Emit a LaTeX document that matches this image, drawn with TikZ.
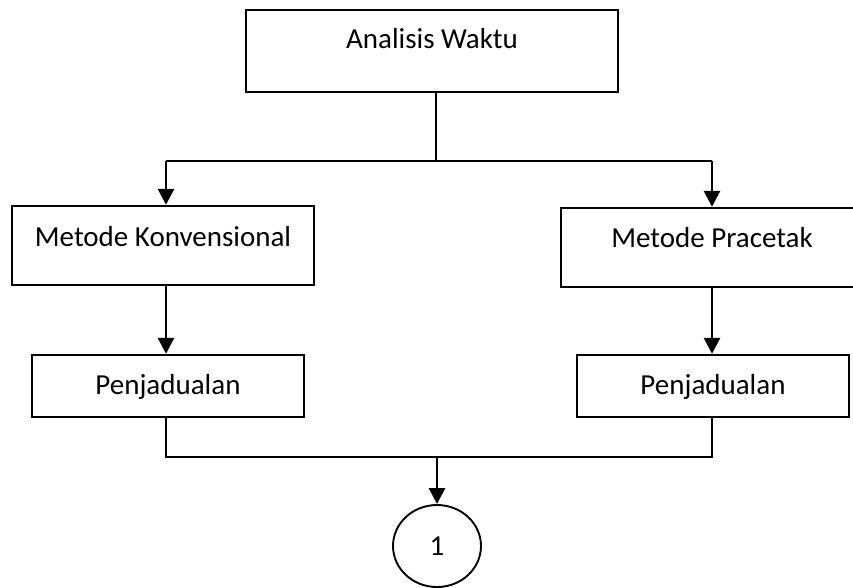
\documentclass[tikz,border=0pt]{standalone}
\usepackage{fontspec}
\setmainfont{Carlito}
\usetikzlibrary{arrows.meta,shapes.geometric}
\begin{document}
\begin{tikzpicture}[x=1pt,y=-1pt,
  every node/.style={font=\fontsize{29}{34}\selectfont},
  box/.style={draw=black,line width=2.4pt,rectangle,inner sep=0pt,anchor=base},
  conn/.style={line width=1.8pt},
  arr/.style={line width=2.8pt,-{Triangle[width=16pt,length=16pt]}},
  circnode/.style={draw=black,line width=1.9pt,ellipse,inner sep=0pt,minimum width=88pt,minimum height=82pt}
]
\useasboundingbox (0,0) rectangle (853,587);
\clip (0,0) rectangle (853,587);

\node[box,minimum width=372pt,text height=38pt,text depth=44pt] (top) at (432,48) {Analisis Waktu};
\node[box,minimum width=302pt,text height=40pt,text depth=39pt] (mk) at (163,246) {Metode Konvensional};
\node[box,minimum width=302pt,text height=39pt,text depth=40pt] (mp) at (712,247) {Metode Pracetak};
\node[box,minimum width=272pt,text height=39pt,text depth=23pt] (pk) at (168,394) {Penjadualan};
\node[box,minimum width=272pt,text height=39pt,text depth=23pt] (pp) at (713,394) {Penjadualan};
\node[circnode] (c) at (437,546) {1};

\coordinate (jt) at (436,161);
\coordinate (jl) at (166,161);
\coordinate (jr) at (712,161);
\coordinate (bl) at (166,457);
\coordinate (br) at (712,457);
\coordinate (bc) at (437,457);

\draw[conn] (top.south -| jt) -- (jt);
\draw[conn] (jl) -- (jr);
\draw[arr] (jl) -- (jl |- mk.north);
\draw[arr] (jr) -- (jr |- mp.north);
\draw[arr] (mk.south -| jl) -- (pk.north -| jl);
\draw[arr] (mp.south -| jr) -- (pp.north -| jr);
\draw[conn] (pk.south -| bl) -- (bl) -- (br) -- (pp.south -| br);
\draw[arr] (bc) -- (c.north);
\end{tikzpicture}
\end{document}
